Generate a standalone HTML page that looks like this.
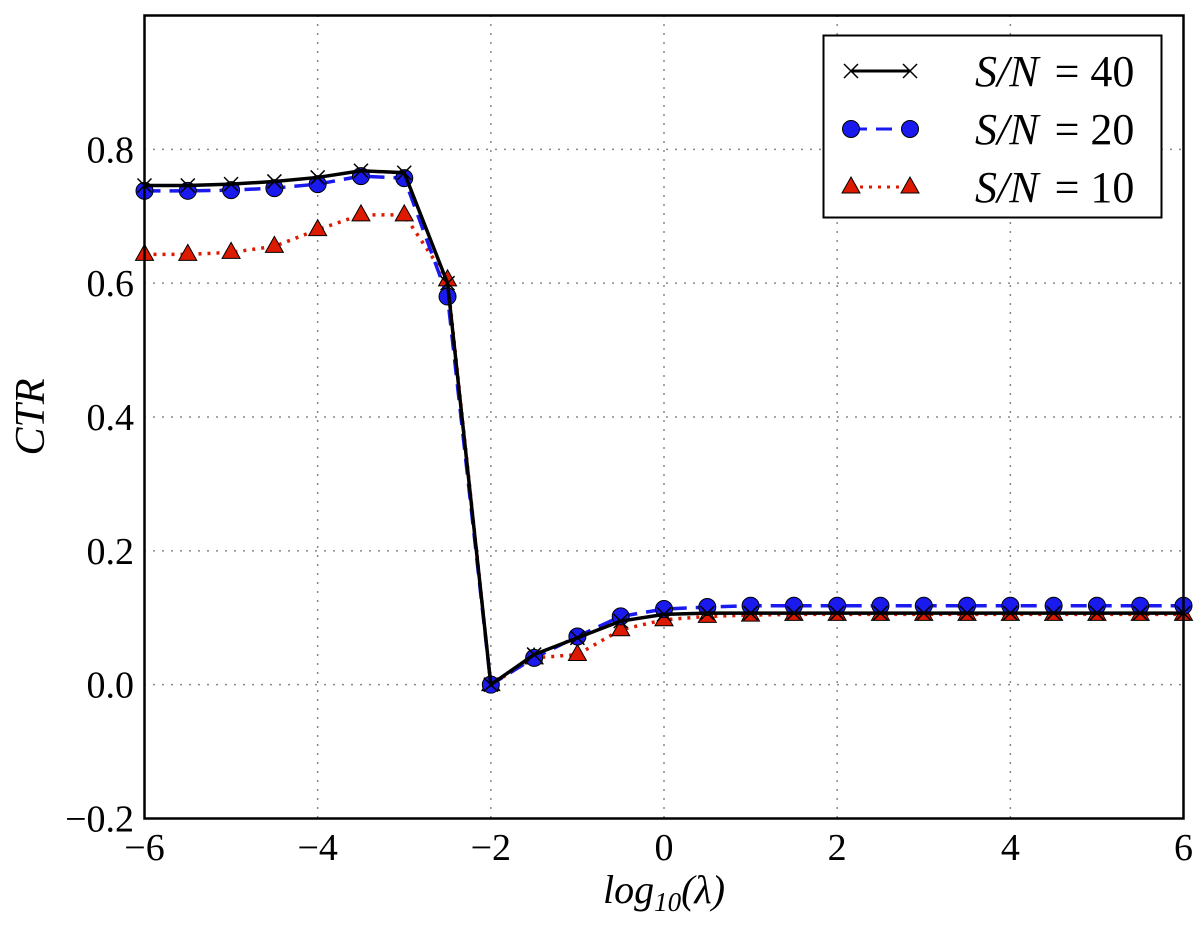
<!DOCTYPE html>
<html><head><meta charset="utf-8"><style>
html,body{margin:0;padding:0;background:#fff;}
svg text{font-family:"Liberation Serif","DejaVu Serif",serif;fill:#000;}
</style></head><body>
<svg id="chart" width="1200" height="926" viewBox="0 0 1200 926" xmlns="http://www.w3.org/2000/svg">
<g id="grid"></g>
<g id="series"></g>
<rect x="144.5" y="15.5" width="1039" height="803" fill="none" stroke="#000" stroke-width="2.5"/>
<g id="ticks"></g>
<text x="664" y="903" font-size="40" font-style="italic" text-anchor="middle">log<tspan font-size="27" dy="8">10</tspan><tspan dy="-8">(λ)</tspan></text>
<text transform="translate(44,417) rotate(-90)" font-size="42" font-style="italic" text-anchor="middle">CTR</text>
<g>
<rect x="823.5" y="35.5" width="338" height="182" fill="#fff" stroke="#000" stroke-width="2"/>
<g id="legend-items"></g>
</g>
</svg>
<script>
const xs=[-6,-5.5,-5,-4.5,-4,-3.5,-3,-2.5,-2,-1.5,-1,-0.5,0,0.5,1,1.5,2,2.5,3,3.5,4,4.5,5,5.5,6];
const sn40=[0.746,0.746,0.748,0.752,0.758,0.768,0.765,0.600,0.0,0.045,0.070,0.095,0.105,0.107,0.107,0.107,0.107,0.107,0.107,0.107,0.107,0.107,0.107,0.107,0.107];
const sn20=[0.738,0.738,0.739,0.742,0.748,0.760,0.757,0.580,0.0,0.040,0.072,0.102,0.113,0.116,0.118,0.118,0.118,0.118,0.118,0.118,0.118,0.118,0.118,0.118,0.118];
const sn10=[0.643,0.643,0.646,0.655,0.680,0.702,0.702,0.605,0.0,0.040,0.045,0.082,0.097,0.102,0.104,0.105,0.105,0.105,0.105,0.105,0.105,0.105,0.105,0.105,0.105];
const xTicks=[-6,-4,-2,0,2,4,6];
const yTicks=[-0.2,0.0,0.2,0.4,0.6,0.8];
const legendLabels=["40","20","10"];
const NS="http://www.w3.org/2000/svg";
const X=v=>144.5+(v+6)/12*1039;
const Y=v=>818.5-(v+0.2)/1.2*803;
function mk(tag,attrs,parent){const e=document.createElementNS(NS,tag);for(const k in attrs)e.setAttribute(k,attrs[k]);parent.appendChild(e);return e;}
const grid=document.getElementById('grid'),ticks=document.getElementById('ticks'),ser=document.getElementById('series');
const fmtMinus=s=>s.replace('-','\u2212');
xTicks.forEach(t=>{
  const l=mk('line',{x1:X(t),x2:X(t),y1:15,y2:818,stroke:'#888','stroke-width':1.5,'stroke-dasharray':'2,7'},grid);
  
  
  const tx=mk('text',{x:X(t),y:860,'font-size':38,'text-anchor':'middle'},ticks);
  tx.textContent=fmtMinus(String(t));
  
  
});
yTicks.forEach(t=>{
  const l=mk('line',{x1:144,x2:1184,y1:Y(t),y2:Y(t),stroke:'#888','stroke-width':1.5,'stroke-dasharray':'2,7'},grid);
  
  
  const tx=mk('text',{x:134,y:Y(t)+13,'font-size':38,'text-anchor':'end'},ticks);
  tx.textContent=fmtMinus(t.toFixed(1));
  
  
});
function marker(kind,x,y,g){
  let m;
  if(kind==='x'){m=mk('path',{d:`M${x-7},${y-7}L${x+7},${y+7}M${x-7},${y+7}L${x+7},${y-7}`,stroke:'#000','stroke-width':1.5,fill:'none'},g);}
  else if(kind==='o'){m=mk('circle',{cx:x,cy:y,r:8.5,fill:'#1a1aee',stroke:'#000','stroke-width':1},g);}
  else {m=mk('path',{d:`M${x},${y-10}L${x+9},${y+6}L${x-9},${y+6}Z`,fill:'#dd1a00',stroke:'#000','stroke-width':1},g);}
  
  
}
const specs=[
  {data:sn40,stroke:'#000',dash:'',w:3.5,mk:'x',name:'series-sn40'},
  {data:sn20,stroke:'#1a1aee',dash:'16,9',w:3.5,mk:'o',name:'series-sn20'},
  {data:sn10,stroke:'#dd1a00',dash:'3,6',w:3.5,mk:'t',name:'series-sn10'}];
[2,1,0].forEach(i=>{
  const s=specs[i];const g=mk('g',{},ser);
  
  
  const pl=mk('polyline',{points:s.data.map((v,j)=>X(xs[j])+','+Y(v)).join(' '),fill:'none',stroke:s.stroke,'stroke-width':s.w,'stroke-dasharray':s.dash},g);
  
  
  s.g=g;
});
[2,1,0].forEach(i=>{const s=specs[i];s.data.forEach((v,j)=>marker(s.mk,X(xs[j]),Y(v),s.g));});
const lg=document.getElementById('legend-items');
specs.forEach((s,i)=>{
  const y=71+i*58;
  const g=mk('g',{},lg);
  
  
  mk('line',{x1:851,x2:910,y1:y,y2:y,stroke:s.stroke,'stroke-width':3,'stroke-dasharray':s.dash},g);
  marker(s.mk,851,y,g);marker(s.mk,910,y,g);
  const t=mk('text',{x:975,y:y+15,'font-size':44},g);
  t.innerHTML='<tspan font-style="italic">S/N</tspan><tspan dx="16">= '+legendLabels[i]+'</tspan>';
});
</script>
</body></html>
